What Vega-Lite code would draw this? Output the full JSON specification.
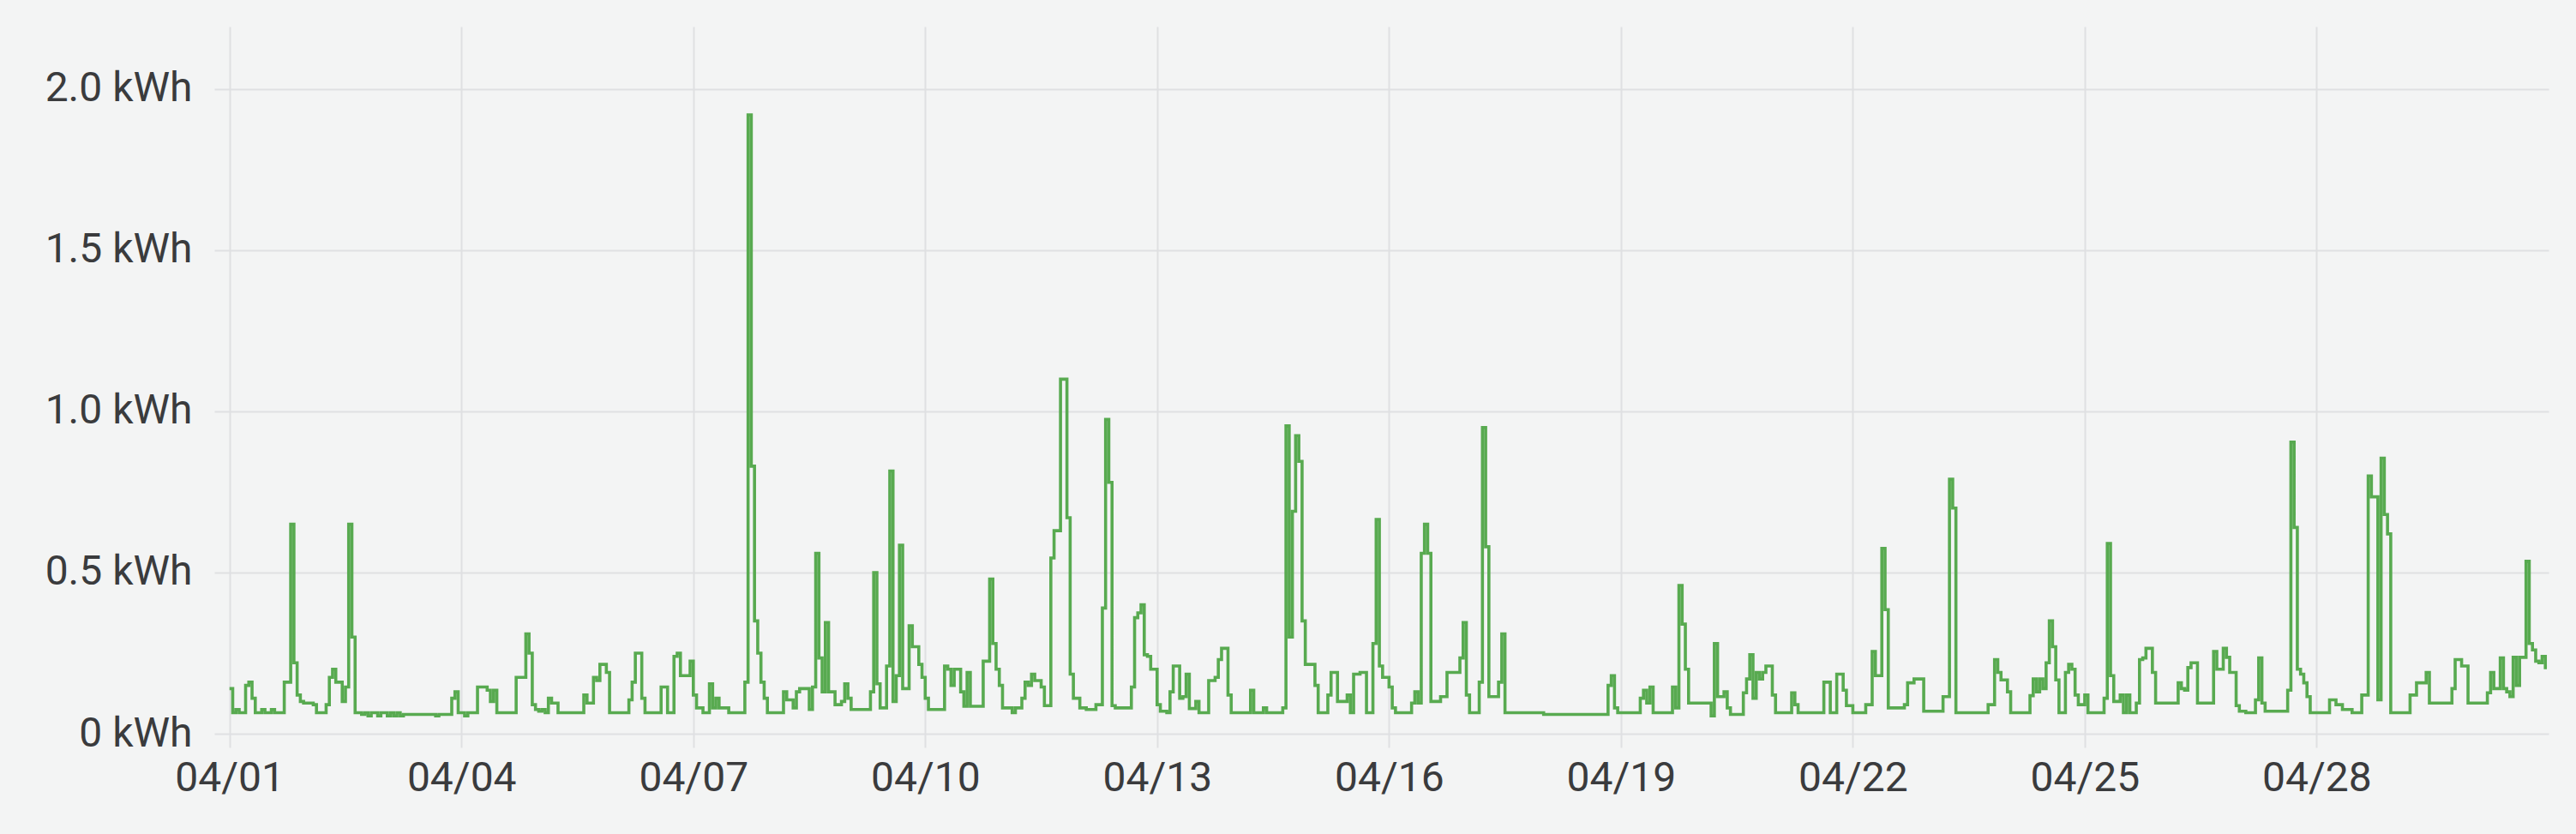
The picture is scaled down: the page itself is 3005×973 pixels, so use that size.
{
"$schema":"https://vega.github.io/schema/vega-lite/v6.json",
"width":2723,"height":825,
"autosize":{"type":"none"},
"padding":{"left":250,"top":31,"right":32,"bottom":117},
"background":"#f3f4f4",
"config":{"view":{"stroke":null},"font":"Roboto"},
"data":{"format":{"parse":{"t":"date:'%Y-%m-%d %H'"}},"values":[
{"t":"2024-04-01 00","v":0.14},{"t":"2024-04-01 01","v":0.065},{"t":"2024-04-01 02","v":0.075},{"t":"2024-04-01 03","v":0.065},{"t":"2024-04-01 04","v":0.065},{"t":"2024-04-01 05","v":0.15},{"t":"2024-04-01 06","v":0.16},{"t":"2024-04-01 07","v":0.11},{"t":"2024-04-01 08","v":0.065},{"t":"2024-04-01 09","v":0.065},{"t":"2024-04-01 10","v":0.075},{"t":"2024-04-01 11","v":0.065},{"t":"2024-04-01 12","v":0.065},{"t":"2024-04-01 13","v":0.075},{"t":"2024-04-01 14","v":0.065},{"t":"2024-04-01 15","v":0.065},{"t":"2024-04-01 16","v":0.065},{"t":"2024-04-01 17","v":0.16},{"t":"2024-04-01 18","v":0.16},{"t":"2024-04-01 19","v":0.65},{"t":"2024-04-01 20","v":0.22},{"t":"2024-04-01 21","v":0.12},{"t":"2024-04-01 22","v":0.10},{"t":"2024-04-01 23","v":0.095},
{"t":"2024-04-02 00","v":0.095},{"t":"2024-04-02 01","v":0.095},{"t":"2024-04-02 02","v":0.09},{"t":"2024-04-02 03","v":0.065},{"t":"2024-04-02 04","v":0.065},{"t":"2024-04-02 05","v":0.065},{"t":"2024-04-02 06","v":0.09},{"t":"2024-04-02 07","v":0.175},{"t":"2024-04-02 08","v":0.2},{"t":"2024-04-02 09","v":0.16},{"t":"2024-04-02 10","v":0.16},{"t":"2024-04-02 11","v":0.10},{"t":"2024-04-02 12","v":0.145},{"t":"2024-04-02 13","v":0.65},{"t":"2024-04-02 14","v":0.30},{"t":"2024-04-02 15","v":0.065},{"t":"2024-04-02 16","v":0.065},{"t":"2024-04-02 17","v":0.06},{"t":"2024-04-02 18","v":0.065},{"t":"2024-04-02 19","v":0.055},{"t":"2024-04-02 20","v":0.065},{"t":"2024-04-02 21","v":0.065},{"t":"2024-04-02 22","v":0.055},{"t":"2024-04-02 23","v":0.065},
{"t":"2024-04-03 00","v":0.065},{"t":"2024-04-03 01","v":0.055},{"t":"2024-04-03 02","v":0.065},{"t":"2024-04-03 03","v":0.055},{"t":"2024-04-03 04","v":0.065},{"t":"2024-04-03 05","v":0.055},{"t":"2024-04-03 06","v":0.06},{"t":"2024-04-03 07","v":0.06},{"t":"2024-04-03 08","v":0.06},{"t":"2024-04-03 09","v":0.06},{"t":"2024-04-03 10","v":0.06},{"t":"2024-04-03 11","v":0.06},{"t":"2024-04-03 12","v":0.06},{"t":"2024-04-03 13","v":0.06},{"t":"2024-04-03 14","v":0.06},{"t":"2024-04-03 15","v":0.06},{"t":"2024-04-03 16","v":0.055},{"t":"2024-04-03 17","v":0.06},{"t":"2024-04-03 18","v":0.06},{"t":"2024-04-03 19","v":0.06},{"t":"2024-04-03 20","v":0.06},{"t":"2024-04-03 21","v":0.11},{"t":"2024-04-03 22","v":0.13},{"t":"2024-04-03 23","v":0.065},
{"t":"2024-04-04 00","v":0.065},{"t":"2024-04-04 01","v":0.055},{"t":"2024-04-04 02","v":0.065},{"t":"2024-04-04 03","v":0.065},{"t":"2024-04-04 04","v":0.065},{"t":"2024-04-04 05","v":0.145},{"t":"2024-04-04 06","v":0.145},{"t":"2024-04-04 07","v":0.145},{"t":"2024-04-04 08","v":0.135},{"t":"2024-04-04 09","v":0.10},{"t":"2024-04-04 10","v":0.135},{"t":"2024-04-04 11","v":0.065},{"t":"2024-04-04 12","v":0.065},{"t":"2024-04-04 13","v":0.065},{"t":"2024-04-04 14","v":0.065},{"t":"2024-04-04 15","v":0.065},{"t":"2024-04-04 16","v":0.065},{"t":"2024-04-04 17","v":0.175},{"t":"2024-04-04 18","v":0.175},{"t":"2024-04-04 19","v":0.175},{"t":"2024-04-04 20","v":0.31},{"t":"2024-04-04 21","v":0.25},{"t":"2024-04-04 22","v":0.09},{"t":"2024-04-04 23","v":0.075},
{"t":"2024-04-05 00","v":0.07},{"t":"2024-04-05 01","v":0.075},{"t":"2024-04-05 02","v":0.065},{"t":"2024-04-05 03","v":0.11},{"t":"2024-04-05 04","v":0.095},{"t":"2024-04-05 05","v":0.095},{"t":"2024-04-05 06","v":0.065},{"t":"2024-04-05 07","v":0.065},{"t":"2024-04-05 08","v":0.065},{"t":"2024-04-05 09","v":0.065},{"t":"2024-04-05 10","v":0.065},{"t":"2024-04-05 11","v":0.065},{"t":"2024-04-05 12","v":0.065},{"t":"2024-04-05 13","v":0.065},{"t":"2024-04-05 14","v":0.12},{"t":"2024-04-05 15","v":0.095},{"t":"2024-04-05 16","v":0.095},{"t":"2024-04-05 17","v":0.175},{"t":"2024-04-05 18","v":0.165},{"t":"2024-04-05 19","v":0.215},{"t":"2024-04-05 20","v":0.215},{"t":"2024-04-05 21","v":0.19},{"t":"2024-04-05 22","v":0.065},{"t":"2024-04-05 23","v":0.065},
{"t":"2024-04-06 00","v":0.065},{"t":"2024-04-06 01","v":0.065},{"t":"2024-04-06 02","v":0.065},{"t":"2024-04-06 03","v":0.065},{"t":"2024-04-06 04","v":0.105},{"t":"2024-04-06 05","v":0.16},{"t":"2024-04-06 06","v":0.25},{"t":"2024-04-06 07","v":0.25},{"t":"2024-04-06 08","v":0.11},{"t":"2024-04-06 09","v":0.065},{"t":"2024-04-06 10","v":0.065},{"t":"2024-04-06 11","v":0.065},{"t":"2024-04-06 12","v":0.065},{"t":"2024-04-06 13","v":0.065},{"t":"2024-04-06 14","v":0.145},{"t":"2024-04-06 15","v":0.145},{"t":"2024-04-06 16","v":0.065},{"t":"2024-04-06 17","v":0.065},{"t":"2024-04-06 18","v":0.24},{"t":"2024-04-06 19","v":0.25},{"t":"2024-04-06 20","v":0.18},{"t":"2024-04-06 21","v":0.18},{"t":"2024-04-06 22","v":0.18},{"t":"2024-04-06 23","v":0.225},
{"t":"2024-04-07 00","v":0.12},{"t":"2024-04-07 01","v":0.08},{"t":"2024-04-07 02","v":0.08},{"t":"2024-04-07 03","v":0.065},{"t":"2024-04-07 04","v":0.065},{"t":"2024-04-07 05","v":0.155},{"t":"2024-04-07 06","v":0.08},{"t":"2024-04-07 07","v":0.11},{"t":"2024-04-07 08","v":0.08},{"t":"2024-04-07 09","v":0.08},{"t":"2024-04-07 10","v":0.08},{"t":"2024-04-07 11","v":0.065},{"t":"2024-04-07 12","v":0.065},{"t":"2024-04-07 13","v":0.065},{"t":"2024-04-07 14","v":0.065},{"t":"2024-04-07 15","v":0.065},{"t":"2024-04-07 16","v":0.16},{"t":"2024-04-07 17","v":1.92},{"t":"2024-04-07 18","v":0.83},{"t":"2024-04-07 19","v":0.35},{"t":"2024-04-07 20","v":0.25},{"t":"2024-04-07 21","v":0.16},{"t":"2024-04-07 22","v":0.11},{"t":"2024-04-07 23","v":0.065},
{"t":"2024-04-08 00","v":0.065},{"t":"2024-04-08 01","v":0.065},{"t":"2024-04-08 02","v":0.065},{"t":"2024-04-08 03","v":0.065},{"t":"2024-04-08 04","v":0.13},{"t":"2024-04-08 05","v":0.105},{"t":"2024-04-08 06","v":0.105},{"t":"2024-04-08 07","v":0.08},{"t":"2024-04-08 08","v":0.13},{"t":"2024-04-08 09","v":0.14},{"t":"2024-04-08 10","v":0.14},{"t":"2024-04-08 11","v":0.14},{"t":"2024-04-08 12","v":0.075},{"t":"2024-04-08 13","v":0.145},{"t":"2024-04-08 14","v":0.56},{"t":"2024-04-08 15","v":0.235},{"t":"2024-04-08 16","v":0.13},{"t":"2024-04-08 17","v":0.345},{"t":"2024-04-08 18","v":0.13},{"t":"2024-04-08 19","v":0.13},{"t":"2024-04-08 20","v":0.09},{"t":"2024-04-08 21","v":0.09},{"t":"2024-04-08 22","v":0.10},{"t":"2024-04-08 23","v":0.155},
{"t":"2024-04-09 00","v":0.11},{"t":"2024-04-09 01","v":0.075},{"t":"2024-04-09 02","v":0.075},{"t":"2024-04-09 03","v":0.075},{"t":"2024-04-09 04","v":0.075},{"t":"2024-04-09 05","v":0.075},{"t":"2024-04-09 06","v":0.075},{"t":"2024-04-09 07","v":0.13},{"t":"2024-04-09 08","v":0.50},{"t":"2024-04-09 09","v":0.155},{"t":"2024-04-09 10","v":0.08},{"t":"2024-04-09 11","v":0.08},{"t":"2024-04-09 12","v":0.21},{"t":"2024-04-09 13","v":0.815},{"t":"2024-04-09 14","v":0.10},{"t":"2024-04-09 15","v":0.18},{"t":"2024-04-09 16","v":0.585},{"t":"2024-04-09 17","v":0.14},{"t":"2024-04-09 18","v":0.14},{"t":"2024-04-09 19","v":0.335},{"t":"2024-04-09 20","v":0.27},{"t":"2024-04-09 21","v":0.27},{"t":"2024-04-09 22","v":0.215},{"t":"2024-04-09 23","v":0.175},
{"t":"2024-04-10 00","v":0.11},{"t":"2024-04-10 01","v":0.075},{"t":"2024-04-10 02","v":0.075},{"t":"2024-04-10 03","v":0.075},{"t":"2024-04-10 04","v":0.075},{"t":"2024-04-10 05","v":0.075},{"t":"2024-04-10 06","v":0.21},{"t":"2024-04-10 07","v":0.2},{"t":"2024-04-10 08","v":0.15},{"t":"2024-04-10 09","v":0.2},{"t":"2024-04-10 10","v":0.2},{"t":"2024-04-10 11","v":0.13},{"t":"2024-04-10 12","v":0.085},{"t":"2024-04-10 13","v":0.19},{"t":"2024-04-10 14","v":0.085},{"t":"2024-04-10 15","v":0.085},{"t":"2024-04-10 16","v":0.085},{"t":"2024-04-10 17","v":0.085},{"t":"2024-04-10 18","v":0.225},{"t":"2024-04-10 19","v":0.225},{"t":"2024-04-10 20","v":0.48},{"t":"2024-04-10 21","v":0.28},{"t":"2024-04-10 22","v":0.2},{"t":"2024-04-10 23","v":0.15},
{"t":"2024-04-11 00","v":0.08},{"t":"2024-04-11 01","v":0.08},{"t":"2024-04-11 02","v":0.08},{"t":"2024-04-11 03","v":0.065},{"t":"2024-04-11 04","v":0.08},{"t":"2024-04-11 05","v":0.08},{"t":"2024-04-11 06","v":0.11},{"t":"2024-04-11 07","v":0.16},{"t":"2024-04-11 08","v":0.15},{"t":"2024-04-11 09","v":0.185},{"t":"2024-04-11 10","v":0.165},{"t":"2024-04-11 11","v":0.165},{"t":"2024-04-11 12","v":0.145},{"t":"2024-04-11 13","v":0.087},{"t":"2024-04-11 14","v":0.087},{"t":"2024-04-11 15","v":0.545},{"t":"2024-04-11 16","v":0.63},{"t":"2024-04-11 17","v":0.63},{"t":"2024-04-11 18","v":1.10},{"t":"2024-04-11 19","v":1.10},{"t":"2024-04-11 20","v":0.67},{"t":"2024-04-11 21","v":0.185},{"t":"2024-04-11 22","v":0.11},{"t":"2024-04-11 23","v":0.11},
{"t":"2024-04-12 00","v":0.08},{"t":"2024-04-12 01","v":0.08},{"t":"2024-04-12 02","v":0.075},{"t":"2024-04-12 03","v":0.075},{"t":"2024-04-12 04","v":0.075},{"t":"2024-04-12 05","v":0.09},{"t":"2024-04-12 06","v":0.09},{"t":"2024-04-12 07","v":0.39},{"t":"2024-04-12 08","v":0.975},{"t":"2024-04-12 09","v":0.78},{"t":"2024-04-12 10","v":0.087},{"t":"2024-04-12 11","v":0.08},{"t":"2024-04-12 12","v":0.08},{"t":"2024-04-12 13","v":0.08},{"t":"2024-04-12 14","v":0.08},{"t":"2024-04-12 15","v":0.08},{"t":"2024-04-12 16","v":0.145},{"t":"2024-04-12 17","v":0.36},{"t":"2024-04-12 18","v":0.375},{"t":"2024-04-12 19","v":0.40},{"t":"2024-04-12 20","v":0.245},{"t":"2024-04-12 21","v":0.24},{"t":"2024-04-12 22","v":0.2},{"t":"2024-04-12 23","v":0.2},
{"t":"2024-04-13 00","v":0.09},{"t":"2024-04-13 01","v":0.07},{"t":"2024-04-13 02","v":0.07},{"t":"2024-04-13 03","v":0.065},{"t":"2024-04-13 04","v":0.13},{"t":"2024-04-13 05","v":0.21},{"t":"2024-04-13 06","v":0.21},{"t":"2024-04-13 07","v":0.11},{"t":"2024-04-13 08","v":0.115},{"t":"2024-04-13 09","v":0.185},{"t":"2024-04-13 10","v":0.078},{"t":"2024-04-13 11","v":0.078},{"t":"2024-04-13 12","v":0.10},{"t":"2024-04-13 13","v":0.065},{"t":"2024-04-13 14","v":0.065},{"t":"2024-04-13 15","v":0.065},{"t":"2024-04-13 16","v":0.165},{"t":"2024-04-13 17","v":0.165},{"t":"2024-04-13 18","v":0.175},{"t":"2024-04-13 19","v":0.23},{"t":"2024-04-13 20","v":0.265},{"t":"2024-04-13 21","v":0.265},{"t":"2024-04-13 22","v":0.12},{"t":"2024-04-13 23","v":0.065},
{"t":"2024-04-14 00","v":0.065},{"t":"2024-04-14 01","v":0.065},{"t":"2024-04-14 02","v":0.065},{"t":"2024-04-14 03","v":0.065},{"t":"2024-04-14 04","v":0.065},{"t":"2024-04-14 05","v":0.135},{"t":"2024-04-14 06","v":0.065},{"t":"2024-04-14 07","v":0.065},{"t":"2024-04-14 08","v":0.065},{"t":"2024-04-14 09","v":0.08},{"t":"2024-04-14 10","v":0.065},{"t":"2024-04-14 11","v":0.065},{"t":"2024-04-14 12","v":0.065},{"t":"2024-04-14 13","v":0.065},{"t":"2024-04-14 14","v":0.065},{"t":"2024-04-14 15","v":0.08},{"t":"2024-04-14 16","v":0.955},{"t":"2024-04-14 17","v":0.30},{"t":"2024-04-14 18","v":0.69},{"t":"2024-04-14 19","v":0.925},{"t":"2024-04-14 20","v":0.845},{"t":"2024-04-14 21","v":0.35},{"t":"2024-04-14 22","v":0.215},{"t":"2024-04-14 23","v":0.215},
{"t":"2024-04-15 00","v":0.215},{"t":"2024-04-15 01","v":0.15},{"t":"2024-04-15 02","v":0.065},{"t":"2024-04-15 03","v":0.065},{"t":"2024-04-15 04","v":0.065},{"t":"2024-04-15 05","v":0.12},{"t":"2024-04-15 06","v":0.19},{"t":"2024-04-15 07","v":0.19},{"t":"2024-04-15 08","v":0.10},{"t":"2024-04-15 09","v":0.10},{"t":"2024-04-15 10","v":0.10},{"t":"2024-04-15 11","v":0.12},{"t":"2024-04-15 12","v":0.065},{"t":"2024-04-15 13","v":0.185},{"t":"2024-04-15 14","v":0.185},{"t":"2024-04-15 15","v":0.19},{"t":"2024-04-15 16","v":0.19},{"t":"2024-04-15 17","v":0.065},{"t":"2024-04-15 18","v":0.065},{"t":"2024-04-15 19","v":0.28},{"t":"2024-04-15 20","v":0.665},{"t":"2024-04-15 21","v":0.21},{"t":"2024-04-15 22","v":0.175},{"t":"2024-04-15 23","v":0.175},
{"t":"2024-04-16 00","v":0.145},{"t":"2024-04-16 01","v":0.08},{"t":"2024-04-16 02","v":0.065},{"t":"2024-04-16 03","v":0.065},{"t":"2024-04-16 04","v":0.065},{"t":"2024-04-16 05","v":0.065},{"t":"2024-04-16 06","v":0.065},{"t":"2024-04-16 07","v":0.095},{"t":"2024-04-16 08","v":0.13},{"t":"2024-04-16 09","v":0.095},{"t":"2024-04-16 10","v":0.56},{"t":"2024-04-16 11","v":0.65},{"t":"2024-04-16 12","v":0.56},{"t":"2024-04-16 13","v":0.10},{"t":"2024-04-16 14","v":0.10},{"t":"2024-04-16 15","v":0.10},{"t":"2024-04-16 16","v":0.115},{"t":"2024-04-16 17","v":0.115},{"t":"2024-04-16 18","v":0.19},{"t":"2024-04-16 19","v":0.19},{"t":"2024-04-16 20","v":0.19},{"t":"2024-04-16 21","v":0.19},{"t":"2024-04-16 22","v":0.235},{"t":"2024-04-16 23","v":0.345},
{"t":"2024-04-17 00","v":0.12},{"t":"2024-04-17 01","v":0.065},{"t":"2024-04-17 02","v":0.065},{"t":"2024-04-17 03","v":0.065},{"t":"2024-04-17 04","v":0.16},{"t":"2024-04-17 05","v":0.95},{"t":"2024-04-17 06","v":0.58},{"t":"2024-04-17 07","v":0.115},{"t":"2024-04-17 08","v":0.115},{"t":"2024-04-17 09","v":0.115},{"t":"2024-04-17 10","v":0.16},{"t":"2024-04-17 11","v":0.31},{"t":"2024-04-17 12","v":0.065},{"t":"2024-04-17 13","v":0.065},{"t":"2024-04-17 14","v":0.065},{"t":"2024-04-17 15","v":0.065},{"t":"2024-04-17 16","v":0.065},{"t":"2024-04-17 17","v":0.065},{"t":"2024-04-17 18","v":0.065},{"t":"2024-04-17 19","v":0.065},{"t":"2024-04-17 20","v":0.065},{"t":"2024-04-17 21","v":0.065},{"t":"2024-04-17 22","v":0.065},{"t":"2024-04-17 23","v":0.065},
{"t":"2024-04-18 00","v":0.06},{"t":"2024-04-18 01","v":0.06},{"t":"2024-04-18 02","v":0.06},{"t":"2024-04-18 03","v":0.06},{"t":"2024-04-18 04","v":0.06},{"t":"2024-04-18 05","v":0.06},{"t":"2024-04-18 06","v":0.06},{"t":"2024-04-18 07","v":0.06},{"t":"2024-04-18 08","v":0.06},{"t":"2024-04-18 09","v":0.06},{"t":"2024-04-18 10","v":0.06},{"t":"2024-04-18 11","v":0.06},{"t":"2024-04-18 12","v":0.06},{"t":"2024-04-18 13","v":0.06},{"t":"2024-04-18 14","v":0.06},{"t":"2024-04-18 15","v":0.06},{"t":"2024-04-18 16","v":0.06},{"t":"2024-04-18 17","v":0.06},{"t":"2024-04-18 18","v":0.06},{"t":"2024-04-18 19","v":0.06},{"t":"2024-04-18 20","v":0.15},{"t":"2024-04-18 21","v":0.18},{"t":"2024-04-18 22","v":0.08},{"t":"2024-04-18 23","v":0.065},
{"t":"2024-04-19 00","v":0.065},{"t":"2024-04-19 01","v":0.065},{"t":"2024-04-19 02","v":0.065},{"t":"2024-04-19 03","v":0.065},{"t":"2024-04-19 04","v":0.065},{"t":"2024-04-19 05","v":0.065},{"t":"2024-04-19 06","v":0.11},{"t":"2024-04-19 07","v":0.135},{"t":"2024-04-19 08","v":0.095},{"t":"2024-04-19 09","v":0.145},{"t":"2024-04-19 10","v":0.065},{"t":"2024-04-19 11","v":0.065},{"t":"2024-04-19 12","v":0.065},{"t":"2024-04-19 13","v":0.065},{"t":"2024-04-19 14","v":0.065},{"t":"2024-04-19 15","v":0.065},{"t":"2024-04-19 16","v":0.145},{"t":"2024-04-19 17","v":0.08},{"t":"2024-04-19 18","v":0.46},{"t":"2024-04-19 19","v":0.34},{"t":"2024-04-19 20","v":0.2},{"t":"2024-04-19 21","v":0.095},{"t":"2024-04-19 22","v":0.095},{"t":"2024-04-19 23","v":0.095},
{"t":"2024-04-20 00","v":0.095},{"t":"2024-04-20 01","v":0.095},{"t":"2024-04-20 02","v":0.095},{"t":"2024-04-20 03","v":0.095},{"t":"2024-04-20 04","v":0.055},{"t":"2024-04-20 05","v":0.28},{"t":"2024-04-20 06","v":0.115},{"t":"2024-04-20 07","v":0.115},{"t":"2024-04-20 08","v":0.13},{"t":"2024-04-20 09","v":0.08},{"t":"2024-04-20 10","v":0.06},{"t":"2024-04-20 11","v":0.06},{"t":"2024-04-20 12","v":0.06},{"t":"2024-04-20 13","v":0.06},{"t":"2024-04-20 14","v":0.127},{"t":"2024-04-20 15","v":0.17},{"t":"2024-04-20 16","v":0.245},{"t":"2024-04-20 17","v":0.11},{"t":"2024-04-20 18","v":0.19},{"t":"2024-04-20 19","v":0.17},{"t":"2024-04-20 20","v":0.19},{"t":"2024-04-20 21","v":0.21},{"t":"2024-04-20 22","v":0.21},{"t":"2024-04-20 23","v":0.12},
{"t":"2024-04-21 00","v":0.065},{"t":"2024-04-21 01","v":0.065},{"t":"2024-04-21 02","v":0.065},{"t":"2024-04-21 03","v":0.065},{"t":"2024-04-21 04","v":0.065},{"t":"2024-04-21 05","v":0.127},{"t":"2024-04-21 06","v":0.09},{"t":"2024-04-21 07","v":0.065},{"t":"2024-04-21 08","v":0.065},{"t":"2024-04-21 09","v":0.065},{"t":"2024-04-21 10","v":0.065},{"t":"2024-04-21 11","v":0.065},{"t":"2024-04-21 12","v":0.065},{"t":"2024-04-21 13","v":0.065},{"t":"2024-04-21 14","v":0.065},{"t":"2024-04-21 15","v":0.16},{"t":"2024-04-21 16","v":0.16},{"t":"2024-04-21 17","v":0.065},{"t":"2024-04-21 18","v":0.065},{"t":"2024-04-21 19","v":0.185},{"t":"2024-04-21 20","v":0.185},{"t":"2024-04-21 21","v":0.135},{"t":"2024-04-21 22","v":0.087},{"t":"2024-04-21 23","v":0.087},
{"t":"2024-04-22 00","v":0.065},{"t":"2024-04-22 01","v":0.065},{"t":"2024-04-22 02","v":0.065},{"t":"2024-04-22 03","v":0.065},{"t":"2024-04-22 04","v":0.09},{"t":"2024-04-22 05","v":0.09},{"t":"2024-04-22 06","v":0.255},{"t":"2024-04-22 07","v":0.18},{"t":"2024-04-22 08","v":0.18},{"t":"2024-04-22 09","v":0.575},{"t":"2024-04-22 10","v":0.385},{"t":"2024-04-22 11","v":0.08},{"t":"2024-04-22 12","v":0.08},{"t":"2024-04-22 13","v":0.08},{"t":"2024-04-22 14","v":0.08},{"t":"2024-04-22 15","v":0.08},{"t":"2024-04-22 16","v":0.09},{"t":"2024-04-22 17","v":0.158},{"t":"2024-04-22 18","v":0.158},{"t":"2024-04-22 19","v":0.17},{"t":"2024-04-22 20","v":0.17},{"t":"2024-04-22 21","v":0.17},{"t":"2024-04-22 22","v":0.07},{"t":"2024-04-22 23","v":0.07},
{"t":"2024-04-23 00","v":0.07},{"t":"2024-04-23 01","v":0.07},{"t":"2024-04-23 02","v":0.07},{"t":"2024-04-23 03","v":0.07},{"t":"2024-04-23 04","v":0.115},{"t":"2024-04-23 05","v":0.115},{"t":"2024-04-23 06","v":0.79},{"t":"2024-04-23 07","v":0.70},{"t":"2024-04-23 08","v":0.065},{"t":"2024-04-23 09","v":0.065},{"t":"2024-04-23 10","v":0.065},{"t":"2024-04-23 11","v":0.065},{"t":"2024-04-23 12","v":0.065},{"t":"2024-04-23 13","v":0.065},{"t":"2024-04-23 14","v":0.065},{"t":"2024-04-23 15","v":0.065},{"t":"2024-04-23 16","v":0.065},{"t":"2024-04-23 17","v":0.065},{"t":"2024-04-23 18","v":0.09},{"t":"2024-04-23 19","v":0.09},{"t":"2024-04-23 20","v":0.23},{"t":"2024-04-23 21","v":0.19},{"t":"2024-04-23 22","v":0.167},{"t":"2024-04-23 23","v":0.167},
{"t":"2024-04-24 00","v":0.13},{"t":"2024-04-24 01","v":0.065},{"t":"2024-04-24 02","v":0.065},{"t":"2024-04-24 03","v":0.065},{"t":"2024-04-24 04","v":0.065},{"t":"2024-04-24 05","v":0.065},{"t":"2024-04-24 06","v":0.065},{"t":"2024-04-24 07","v":0.118},{"t":"2024-04-24 08","v":0.17},{"t":"2024-04-24 09","v":0.13},{"t":"2024-04-24 10","v":0.17},{"t":"2024-04-24 11","v":0.14},{"t":"2024-04-24 12","v":0.22},{"t":"2024-04-24 13","v":0.35},{"t":"2024-04-24 14","v":0.27},{"t":"2024-04-24 15","v":0.167},{"t":"2024-04-24 16","v":0.065},{"t":"2024-04-24 17","v":0.065},{"t":"2024-04-24 18","v":0.19},{"t":"2024-04-24 19","v":0.215},{"t":"2024-04-24 20","v":0.2},{"t":"2024-04-24 21","v":0.12},{"t":"2024-04-24 22","v":0.09},{"t":"2024-04-24 23","v":0.09},
{"t":"2024-04-25 00","v":0.12},{"t":"2024-04-25 01","v":0.065},{"t":"2024-04-25 02","v":0.065},{"t":"2024-04-25 03","v":0.065},{"t":"2024-04-25 04","v":0.065},{"t":"2024-04-25 05","v":0.065},{"t":"2024-04-25 06","v":0.11},{"t":"2024-04-25 07","v":0.59},{"t":"2024-04-25 08","v":0.18},{"t":"2024-04-25 09","v":0.10},{"t":"2024-04-25 10","v":0.10},{"t":"2024-04-25 11","v":0.12},{"t":"2024-04-25 12","v":0.065},{"t":"2024-04-25 13","v":0.12},{"t":"2024-04-25 14","v":0.065},{"t":"2024-04-25 15","v":0.065},{"t":"2024-04-25 16","v":0.095},{"t":"2024-04-25 17","v":0.23},{"t":"2024-04-25 18","v":0.235},{"t":"2024-04-25 19","v":0.265},{"t":"2024-04-25 20","v":0.265},{"t":"2024-04-25 21","v":0.19},{"t":"2024-04-25 22","v":0.095},{"t":"2024-04-25 23","v":0.095},
{"t":"2024-04-26 00","v":0.095},{"t":"2024-04-26 01","v":0.095},{"t":"2024-04-26 02","v":0.095},{"t":"2024-04-26 03","v":0.095},{"t":"2024-04-26 04","v":0.095},{"t":"2024-04-26 05","v":0.158},{"t":"2024-04-26 06","v":0.14},{"t":"2024-04-26 07","v":0.135},{"t":"2024-04-26 08","v":0.205},{"t":"2024-04-26 09","v":0.22},{"t":"2024-04-26 10","v":0.22},{"t":"2024-04-26 11","v":0.095},{"t":"2024-04-26 12","v":0.095},{"t":"2024-04-26 13","v":0.095},{"t":"2024-04-26 14","v":0.095},{"t":"2024-04-26 15","v":0.095},{"t":"2024-04-26 16","v":0.255},{"t":"2024-04-26 17","v":0.2},{"t":"2024-04-26 18","v":0.2},{"t":"2024-04-26 19","v":0.265},{"t":"2024-04-26 20","v":0.237},{"t":"2024-04-26 21","v":0.19},{"t":"2024-04-26 22","v":0.19},{"t":"2024-04-26 23","v":0.087},
{"t":"2024-04-27 00","v":0.07},{"t":"2024-04-27 01","v":0.07},{"t":"2024-04-27 02","v":0.065},{"t":"2024-04-27 03","v":0.065},{"t":"2024-04-27 04","v":0.065},{"t":"2024-04-27 05","v":0.105},{"t":"2024-04-27 06","v":0.235},{"t":"2024-04-27 07","v":0.095},{"t":"2024-04-27 08","v":0.07},{"t":"2024-04-27 09","v":0.07},{"t":"2024-04-27 10","v":0.07},{"t":"2024-04-27 11","v":0.07},{"t":"2024-04-27 12","v":0.07},{"t":"2024-04-27 13","v":0.07},{"t":"2024-04-27 14","v":0.07},{"t":"2024-04-27 15","v":0.135},{"t":"2024-04-27 16","v":0.905},{"t":"2024-04-27 17","v":0.64},{"t":"2024-04-27 18","v":0.2},{"t":"2024-04-27 19","v":0.185},{"t":"2024-04-27 20","v":0.158},{"t":"2024-04-27 21","v":0.115},{"t":"2024-04-27 22","v":0.065},{"t":"2024-04-27 23","v":0.065},
{"t":"2024-04-28 00","v":0.065},{"t":"2024-04-28 01","v":0.065},{"t":"2024-04-28 02","v":0.065},{"t":"2024-04-28 03","v":0.065},{"t":"2024-04-28 04","v":0.105},{"t":"2024-04-28 05","v":0.105},{"t":"2024-04-28 06","v":0.09},{"t":"2024-04-28 07","v":0.09},{"t":"2024-04-28 08","v":0.075},{"t":"2024-04-28 09","v":0.075},{"t":"2024-04-28 10","v":0.075},{"t":"2024-04-28 11","v":0.065},{"t":"2024-04-28 12","v":0.065},{"t":"2024-04-28 13","v":0.065},{"t":"2024-04-28 14","v":0.12},{"t":"2024-04-28 15","v":0.12},{"t":"2024-04-28 16","v":0.80},{"t":"2024-04-28 17","v":0.735},{"t":"2024-04-28 18","v":0.735},{"t":"2024-04-28 19","v":0.105},{"t":"2024-04-28 20","v":0.855},{"t":"2024-04-28 21","v":0.68},{"t":"2024-04-28 22","v":0.62},{"t":"2024-04-28 23","v":0.065},
{"t":"2024-04-29 00","v":0.065},{"t":"2024-04-29 01","v":0.065},{"t":"2024-04-29 02","v":0.065},{"t":"2024-04-29 03","v":0.065},{"t":"2024-04-29 04","v":0.065},{"t":"2024-04-29 05","v":0.12},{"t":"2024-04-29 06","v":0.12},{"t":"2024-04-29 07","v":0.158},{"t":"2024-04-29 08","v":0.158},{"t":"2024-04-29 09","v":0.158},{"t":"2024-04-29 10","v":0.19},{"t":"2024-04-29 11","v":0.095},{"t":"2024-04-29 12","v":0.095},{"t":"2024-04-29 13","v":0.095},{"t":"2024-04-29 14","v":0.095},{"t":"2024-04-29 15","v":0.095},{"t":"2024-04-29 16","v":0.095},{"t":"2024-04-29 17","v":0.095},{"t":"2024-04-29 18","v":0.14},{"t":"2024-04-29 19","v":0.23},{"t":"2024-04-29 20","v":0.23},{"t":"2024-04-29 21","v":0.21},{"t":"2024-04-29 22","v":0.21},{"t":"2024-04-29 23","v":0.095},
{"t":"2024-04-30 00","v":0.095},{"t":"2024-04-30 01","v":0.095},{"t":"2024-04-30 02","v":0.095},{"t":"2024-04-30 03","v":0.095},{"t":"2024-04-30 04","v":0.095},{"t":"2024-04-30 05","v":0.127},{"t":"2024-04-30 06","v":0.19},{"t":"2024-04-30 07","v":0.14},{"t":"2024-04-30 08","v":0.14},{"t":"2024-04-30 09","v":0.235},{"t":"2024-04-30 10","v":0.14},{"t":"2024-04-30 11","v":0.13},{"t":"2024-04-30 12","v":0.115},{"t":"2024-04-30 13","v":0.237},{"t":"2024-04-30 14","v":0.15},{"t":"2024-04-30 15","v":0.237},{"t":"2024-04-30 16","v":0.237},{"t":"2024-04-30 17","v":0.535},{"t":"2024-04-30 18","v":0.28},{"t":"2024-04-30 19","v":0.26},{"t":"2024-04-30 20","v":0.225},{"t":"2024-04-30 21","v":0.22},{"t":"2024-04-30 22","v":0.24},{"t":"2024-04-30 23","v":0.2}
]},
"mark":{"type":"line","interpolate":"step-after","color":"#58aa50","strokeWidth":3.6},
"encoding":{
"x":{"field":"t","type":"temporal","title":null,
"scale":{"domain":[{"year":2024,"month":"mar","date":31,"hours":19,"minutes":17},{"year":2024,"month":"may","date":1,"hours":0}]},
"axis":{"values":[{"year":2024,"month":"apr","date":1},{"year":2024,"month":"apr","date":4},{"year":2024,"month":"apr","date":7},{"year":2024,"month":"apr","date":10},{"year":2024,"month":"apr","date":13},{"year":2024,"month":"apr","date":16},{"year":2024,"month":"apr","date":19},{"year":2024,"month":"apr","date":22},{"year":2024,"month":"apr","date":25},{"year":2024,"month":"apr","date":28}],
"format":"%m/%d","grid":true,"gridColor":"#dfe0e2","gridWidth":2,"domain":false,"ticks":true,"tickSize":16,"tickColor":"#dfe0e2","tickWidth":2,
"labelFont":"Roboto","labelFontSize":48,"labelColor":"#3a3b3d","labelPadding":12,"labelFlush":false,"labelOverlap":false}},
"y":{"field":"v","type":"quantitative","title":null,
"scale":{"domain":[0,2.194],"nice":false,"zero":true},
"axis":{"values":[0,0.5,1,1.5,2],"labelExpr":"datum.value == 0 ? '0 kWh' : format(datum.value, '.1f') + ' kWh'",
"grid":true,"gridColor":"#dfe0e2","gridWidth":2,"domain":false,"ticks":false,"tickSize":0,
"labelFont":"Roboto","labelFontSize":48,"labelColor":"#3a3b3d","labelPadding":26}}
}
}
